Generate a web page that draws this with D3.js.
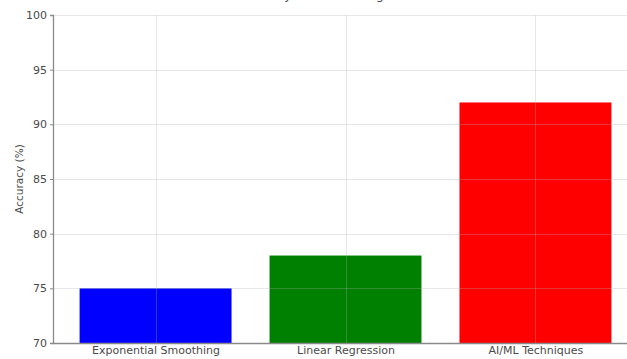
<!DOCTYPE html>
<html>
<head>
<meta charset="utf-8">
<script src="https://cdn.jsdelivr.net/npm/d3@7"></script>
<style>
  html, body { margin: 0; padding: 0; background: #fff; }
  svg { display: block; font-family: "DejaVu Sans", sans-serif; }
</style>
</head>
<body>
<svg id="chart" width="627" height="359"></svg>
<script>
// Forecast method accuracy
const methods = ["Exponential Smoothing", "Linear Regression", "AI/ML Techniques"];
const accuracy = [75, 78, 92];
const barColors = ["#0000ff", "#008000", "#ff0000"];
const yTicks = [70, 75, 80, 85, 90, 95, 100];

const svg = d3.select("#chart");
const margin = { left: 53, top: 15, bottom: 343 };
const plotRight = 638; // axes extend past the visible edge

// category positions: bars 0.8 wide, 0.54 padding at both ends (matplotlib-style)
const x = d3.scaleLinear().domain([-0.54, methods.length - 1 + 0.54]).range([margin.left, plotRight]);
const y = d3.scaleLinear().domain([70, 100]).range([margin.bottom, margin.top]);
const barHalf = 0.4;

// bars
svg.append("g").selectAll("rect").data(methods).join("rect")
  .attr("x", (d, i) => x(i - barHalf))
  .attr("width", (d, i) => x(i + barHalf) - x(i - barHalf))
  .attr("y", (d, i) => y(accuracy[i]))
  .attr("height", (d, i) => y(70) - y(accuracy[i]))
  .attr("fill", (d, i) => barColors[i]);

// grid drawn over the bars, faint
const grid = svg.append("g").attr("stroke", "#b0b0b0").attr("stroke-opacity", 0.3).attr("stroke-width", 1);
grid.selectAll("line.h").data(yTicks).join("line").attr("class", "h")
  .attr("x1", margin.left).attr("x2", plotRight)
  .attr("y1", d => Math.round(y(d)) + 0.5).attr("y2", d => Math.round(y(d)) + 0.5);
grid.selectAll("line.v").data(methods).join("line").attr("class", "v")
  .attr("x1", (d, i) => Math.round(x(i)) + 0.5).attr("x2", (d, i) => Math.round(x(i)) + 0.5)
  .attr("y1", margin.top).attr("y2", margin.bottom);

// y axis
const yAxis = d3.axisLeft(y).tickValues(yTicks).tickSize(3).tickPadding(3).tickFormat(d3.format("d"));
const gy = svg.append("g").attr("transform", `translate(${margin.left},0)`).call(yAxis);
gy.select(".domain").attr("stroke", "#8a8a8a").attr("stroke-width", 1.3);
gy.selectAll(".tick line").attr("stroke", "#8a8a8a");
gy.selectAll(".tick text").attr("fill", "#4a4a4a").attr("font-size", 11).attr("font-family", "DejaVu Sans, sans-serif");

// x axis
const xAxis = d3.axisBottom(x).tickValues(d3.range(methods.length)).tickSize(0).tickPadding(3)
  .tickFormat(i => methods[i]);
const gx = svg.append("g").attr("transform", `translate(0,${margin.bottom})`).call(xAxis);
gx.select(".domain").attr("stroke", "#8a8a8a").attr("stroke-width", 1.3);
gx.selectAll(".tick text").attr("fill", "#4a4a4a").attr("font-size", 11).attr("font-family", "DejaVu Sans, sans-serif");

// y label
svg.append("text")
  .attr("transform", `translate(23,${(margin.top + margin.bottom) / 2}) rotate(-90)`)
  .attr("text-anchor", "middle")
  .attr("fill", "#4a4a4a").attr("font-size", 10.5)
  .text("Accuracy (%)");

// title, sitting above the top edge so only its descenders show
svg.append("text")
  .attr("x", 338).attr("y", -1)
  .attr("text-anchor", "middle")
  .attr("fill", "#4a4a4a").attr("font-size", 12.5)
  .text("Accuracy of Forecasting Methods");
</script>
</body>
</html>
